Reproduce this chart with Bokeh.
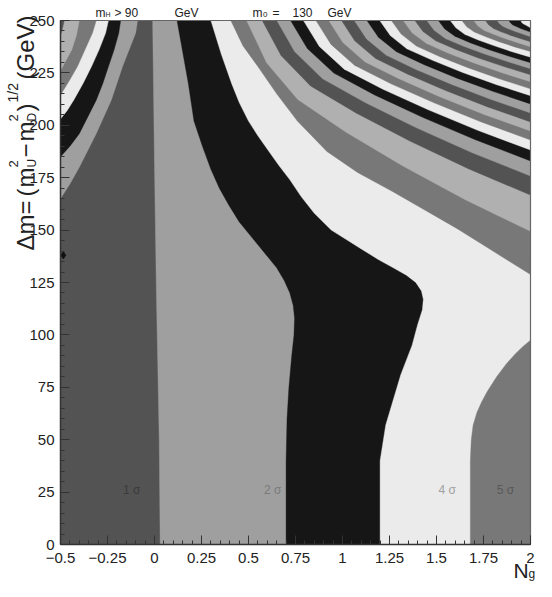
import numpy as np
from bokeh.plotting import figure
from bokeh.models import Range1d, FixedTicker
from bokeh.core.properties import value
from bokeh.embed import file_html
from bokeh.resources import INLINE

FONT = "Liberation Sans"

# ---- colour of band (n sigma .. n+1 sigma), cycling every 6 levels
band_colors = ["#535353", "#9f9f9f", "#161616", "#ebebeb", "#787878", "#b0b0b0"]

# ---- contour pieces (x = N_g, y = Delta m in GeV)
# left-top corner pieces: from the left edge up to the top edge
l1_x = [-0.5, -0.45, -0.40, -0.355, -0.31, -0.27, -0.23, -0.20, -0.17, -0.135, -0.10, -0.09]
l1_y = [165, 172, 180, 188, 196, 204, 212, 220, 228, 236, 244, 250]
l2_x = [-0.5, -0.45, -0.40, -0.355, -0.31, -0.275, -0.245, -0.215, -0.19, -0.18]
l2_y = [185, 190, 196, 204, 212, 220, 228, 236, 244, 250]
l3_x = [-0.5, -0.465, -0.43, -0.38, -0.335, -0.295, -0.26, -0.245]
l3_y = [203, 207, 212, 220, 228, 236, 244, 250]
l4_x = [-0.5, -0.455, -0.41, -0.37, -0.33, -0.31]
l4_y = [214.5, 221, 228, 236, 244, 250]
l5_x = [-0.5, -0.47, -0.44, -0.415, -0.40]
l5_y = [226, 231, 236, 243, 250]
l6_x = [-0.5, -0.49, -0.48]
l6_y = [243, 246, 250]

# main pieces: from the bottom edge up to the top edge
r1_x = [0.03, 0.025, 0.01, 0.0, -0.01]
r1_y = [0, 50, 120, 180, 250]
r2_x = [0.70, 0.70, 0.705, 0.715, 0.73, 0.742, 0.745, 0.738, 0.72, 0.69, 0.65, 0.60, 0.55, 0.50,
        0.45, 0.395, 0.345, 0.30, 0.255, 0.21, 0.18, 0.15, 0.12]
r2_y = [0, 40, 60, 75, 90, 100, 108, 114, 120, 126, 132, 137.5, 143, 148.5,
        154, 162, 170, 179, 190, 202, 220, 235, 250]
r3_x = [1.20, 1.20, 1.23, 1.31, 1.37, 1.40, 1.425, 1.43, 1.42, 1.39, 1.34, 1.27, 1.19, 1.10, 1.02,
        0.94, 0.85, 0.78, 0.72, 0.66, 0.605, 0.55, 0.50, 0.45, 0.41, 0.355, 0.30]
r3_y = [0, 40, 57, 81, 95, 105, 112, 117, 121, 125, 128.5, 132, 136, 141, 145.5,
        150, 158, 166, 174, 181, 188, 195, 202, 211, 220, 234, 250]

# 4 sigma island at the lower right: bottom edge to right edge
i4_x = [1.68, 1.68, 1.685, 1.695, 1.715, 1.74, 1.77, 1.82, 1.87, 1.92, 1.96, 2.0]
i4_y = [0, 40, 50, 57, 63, 68, 73, 80, 86, 91, 94.5, 97.5]

# upper arcs (level n): from the top edge down to the right edge
u04_x = [0.406, 0.47, 0.55, 0.65, 0.76, 0.917, 1.08, 1.266, 1.43, 1.61, 1.80, 2.0]
u04_y = [250, 238, 228, 215, 202, 187.5, 177.5, 168.4, 160, 150.7, 140, 128.8]
u05_x = [0.490, 0.596, 0.762, 1.019, 1.321, 1.653, 2.0]
u05_y = [250, 229.9, 212.3, 196.7, 180.6, 164.5, 149.4]
u06_x = [0.573, 0.673, 0.830, 1.072, 1.358, 1.672, 2.0]
u06_y = [250, 233.3, 218.8, 205.9, 192.5, 179.2, 166.7]
u07_x = [0.651, 0.745, 0.894, 1.123, 1.393, 1.690, 2.0]
u07_y = [250, 235.2, 222.2, 210.7, 198.8, 186.9, 175.8]
u08_x = [0.724, 0.813, 0.954, 1.171, 1.426, 1.707, 2.0]
u08_y = [250, 236.6, 224.9, 214.5, 203.8, 193.1, 183.0]
u09_x = [0.792, 0.877, 1.009, 1.215, 1.456, 1.722, 2.0]
u09_y = [250, 237.6, 226.8, 217.2, 207.4, 197.5, 188.2]
u10_x = [0.859, 0.939, 1.064, 1.258, 1.487, 1.738, 2.0]
u10_y = [250, 238.6, 228.6, 219.8, 210.7, 201.6, 193.0]
u11_x = [0.927, 1.002, 1.120, 1.303, 1.517, 1.753, 2.0]
u11_y = [250, 239.5, 230.2, 222.1, 213.6, 205.2, 197.3]
u12_x = [0.995, 1.065, 1.176, 1.347, 1.548, 1.769, 2.0]
u12_y = [250, 240.3, 231.9, 224.4, 216.6, 208.9, 201.6]
u13_x = [1.063, 1.128, 1.231, 1.391, 1.578, 1.784, 2.0]
u13_y = [250, 241.2, 233.5, 226.6, 219.6, 212.5, 205.9]
u14_x = [1.130, 1.191, 1.287, 1.435, 1.609, 1.800, 2.0]
u14_y = [250, 242.0, 235.1, 228.9, 222.5, 216.2, 210.2]
u15_x = [1.198, 1.254, 1.342, 1.479, 1.639, 1.816, 2.0]
u15_y = [250, 242.8, 236.5, 231.0, 225.2, 219.5, 214.1]
u16_x = [1.260, 1.312, 1.393, 1.519, 1.667, 1.830, 2.0]
u16_y = [250, 243.5, 237.8, 232.7, 227.5, 222.3, 217.4]
u17_x = [1.323, 1.370, 1.445, 1.560, 1.695, 1.844, 2.0]
u17_y = [250, 244.2, 239.1, 234.5, 229.9, 225.2, 220.8]
u18_x = [1.385, 1.428, 1.496, 1.600, 1.723, 1.859, 2.0]
u18_y = [250, 244.8, 240.3, 236.3, 232.1, 228.0, 224.1]
u19_x = [1.448, 1.487, 1.547, 1.641, 1.752, 1.873, 2.0]
u19_y = [250, 245.4, 241.4, 237.8, 234.1, 230.5, 227.0]
u20_x = [1.510, 1.544, 1.598, 1.682, 1.780, 1.887, 2.0]
u20_y = [250, 246.0, 242.5, 239.3, 236.1, 232.9, 229.9]
u21_x = [1.573, 1.603, 1.650, 1.722, 1.808, 1.902, 2.0]
u21_y = [250, 246.5, 243.4, 240.7, 237.9, 235.1, 232.5]
u22_x = [1.635, 1.661, 1.701, 1.763, 1.836, 1.916, 2.0]
u22_y = [250, 247.0, 244.5, 242.2, 239.8, 237.4, 235.2]
u23_x = [1.698, 1.719, 1.752, 1.804, 1.864, 1.931, 2.0]
u23_y = [250, 247.5, 245.3, 243.4, 241.4, 239.4, 237.5]
u24_x = [1.760, 1.777, 1.803, 1.844, 1.892, 1.945, 2.0]
u24_y = [250, 248.0, 246.2, 244.6, 243.0, 241.4, 239.9]
u25_x = [1.823, 1.835, 1.855, 1.885, 1.920, 1.959, 2.0]
u25_y = [250, 248.5, 247.1, 245.9, 244.7, 243.5, 242.3]
u26_x = [1.885, 1.893, 1.906, 1.925, 1.948, 1.974, 2.0]
u26_y = [250, 248.9, 247.9, 247.1, 246.2, 245.3, 244.5]
u27_x = [1.948, 1.952, 1.957, 1.966, 1.977, 1.988, 2.0]
u27_y = [250, 249.3, 248.7, 248.2, 247.7, 247.1, 246.6]

# sigma labels
sig_text = ["1 σ", "2 σ", "4 σ", "5 σ"]
sig_x = [-0.167, 0.583, 1.51, 1.82]
sig_y = [25.8, 25.8, 25.8, 25.8]
sig_color = ["#3a3a3a", "#7a7a7a", "#a0a0a0", "#585858"]

# marked point
pt_x = [-0.485]
pt_y = [138]

# ticks
x_ticks = [-0.5, -0.25, 0, 0.25, 0.5, 0.75, 1, 1.25, 1.5, 1.75, 2]
x_tick_labels = ["−0.5", "−0.25", "0", "0.25", "0.5", "0.75", "1", "1.25", "1.5", "1.75", "2"]
y_ticks = [0, 25, 50, 75, 100, 125, 150, 175, 200, 225, 250]
y_tick_labels = ["0", "25", "50", "75", "100", "125", "150", "175", "200", "225", "250"]

X0, X1, Y0, Y1 = -0.5, 2.0, 0.0, 250.0

# ---- page layout (pixels inside the 536 x 581 canvas)
W, H = 536, 581
FL, FR, FT, FB = 60, 530, 20, 544           # chart box inside the canvas
KX = (FR - FL) / (X1 - X0)                    # px per x unit
KY = (FB - FT) / (Y1 - Y0)                    # px per y unit

p = figure(width=W, height=H,
           x_range=Range1d(X0 - FL / KX, X1 + (W - FR) / KX),
           y_range=Range1d(Y0 - (H - FB) / KY, Y1 + FT / KY),
           output_backend="svg", toolbar_location=None, min_border=0)
p.grid.visible = False
p.background_fill_color = "white"
p.border_fill_color = "white"
p.outline_line_color = None

# ---- build superlevel polygons, painted in increasing sigma order
px, py, pc = [], [], []


def add(xs, ys, n):
    px.append(list(xs))
    py.append(list(ys))
    pc.append(band_colors[n % 6])


add([X0, X1, X1, X0], [Y0, Y0, Y1, Y1], 0)

lefts = {1: (l1_x, l1_y), 2: (l2_x, l2_y), 3: (l3_x, l3_y), 4: (l4_x, l4_y), 5: (l5_x, l5_y), 6: (l6_x, l6_y)}
rights = {1: (r1_x, r1_y), 2: (r2_x, r2_y), 3: (r3_x, r3_y)}
uppers = {4: (u04_x, u04_y), 5: (u05_x, u05_y), 6: (u06_x, u06_y), 7: (u07_x, u07_y),
          8: (u08_x, u08_y), 9: (u09_x, u09_y), 10: (u10_x, u10_y), 11: (u11_x, u11_y),
          12: (u12_x, u12_y), 13: (u13_x, u13_y), 14: (u14_x, u14_y), 15: (u15_x, u15_y),
          16: (u16_x, u16_y), 17: (u17_x, u17_y), 18: (u18_x, u18_y), 19: (u19_x, u19_y),
          20: (u20_x, u20_y), 21: (u21_x, u21_y), 22: (u22_x, u22_y), 23: (u23_x, u23_y),
          24: (u24_x, u24_y), 25: (u25_x, u25_y), 26: (u26_x, u26_y), 27: (u27_x, u27_y)}

for n in range(1, 28):
    if n in lefts:
        lx, ly = lefts[n]
        add(lx + [X0], ly + [Y1], n)
    if n in rights:
        rx, ry = rights[n]
        add(rx + [X1, X1], ry + [Y1, Y0], n)
    if n == 4:
        add(i4_x + [X1], i4_y + [Y0], n)
    if n in uppers:
        ux, uy = uppers[n]
        add(ux + [X1], uy + [Y1], n)

p.patches(px, py, fill_color=pc, line_color=pc, line_width=0.4)

# top and right frame lines
p.line([X0, X1, X1], [Y1, Y1, Y0], line_color="#666666", line_width=1.2)

# marked point
p.scatter(pt_x, pt_y, marker="diamond", size=7, color="#111111")

# ---- axes placed on the chart box
p.xaxis.fixed_location = Y0
p.yaxis.fixed_location = X0
p.xaxis.bounds = (X0, X1)
p.yaxis.bounds = (Y0, Y1)
p.xaxis.ticker = FixedTicker(ticks=x_ticks, minor_ticks=list(np.round(np.arange(-0.5, 2.0001, 0.05), 3)))
p.yaxis.ticker = FixedTicker(ticks=y_ticks, minor_ticks=list(np.arange(0, 251, 5)))
p.xaxis.major_label_overrides = {v: s for v, s in zip(x_ticks, x_tick_labels)}
p.yaxis.major_label_overrides = {v: s for v, s in zip(y_ticks, y_tick_labels)}
for ax in (p.xaxis[0], p.yaxis[0]):
    ax.major_tick_in = 9
    ax.major_tick_out = 0
    ax.minor_tick_in = 4
    ax.minor_tick_out = 0
    ax.major_tick_line_color = "#333333"
    ax.minor_tick_line_color = "#333333"
    ax.axis_line_color = "#333333"
    ax.axis_line_width = 1.5
    ax.major_label_text_font = FONT
    ax.major_label_text_font_size = "15px"
    ax.major_label_text_color = "#222222"
p.xaxis.major_label_standoff = 8
p.yaxis.major_label_standoff = 6


# ---- texts placed by page pixel position (page = canvas + 8 px margin)
def dx(X):
    return X0 + (X - 8 - FL) / KX


def dy(Y):
    return Y0 + (FB - (Y - 8)) / KY


def txt(X, Y, s, size, angle=0.0, align="left", baseline="alphabetic", color="#222222"):
    p.text(x=[dx(X)], y=[dy(Y)], text=[s], angle=angle, text_font=value(FONT),
           text_font_size=value(size), text_align=align, text_baseline=baseline,
           text_color=color)


# sigma labels inside the chart
for t, x, y, c in zip(sig_text, sig_x, sig_y, sig_color):
    p.text(x=[x], y=[y], text=[t], text_font=value(FONT), text_font_size=value("12px"),
           text_color=c, text_baseline="middle", text_align="left")

# title line
txt(103, 20, "m", "12px")
txt(113, 22, "H", "7px")
txt(122, 20, "> 90", "12px")
txt(182, 20, "GeV", "12px")
txt(260, 20, "m", "12px")
txt(270.5, 22, "0", "8px")
txt(280, 20, "=", "12px")
txt(300, 20, "130", "12px")
txt(335, 20, "GeV", "12px")

# rotated y-axis title (reads upwards)
A = np.pi / 2
txt(33, 258, "Δm=", "24px", A)
txt(33, 204, "(", "24px", A)
txt(33, 195, "m", "24px", A)
txt(21, 175, "2", "13px", A)
txt(39, 175, "U", "12px", A)
txt(33, 165, "−", "24px", A)
txt(33, 149, "m", "24px", A)
txt(21, 129, "2", "13px", A)
txt(39, 129, "D", "12px", A)
txt(33, 119, ")", "24px", A)
txt(20, 110, "1/2", "14px", A)
txt(33, 87, "(GeV)", "24px", A)

# x-axis title
txt(521, 578, "N", "21px")
txt(536, 581, "g", "12px")

open("out.html", "w").write(file_html(p, INLINE))
